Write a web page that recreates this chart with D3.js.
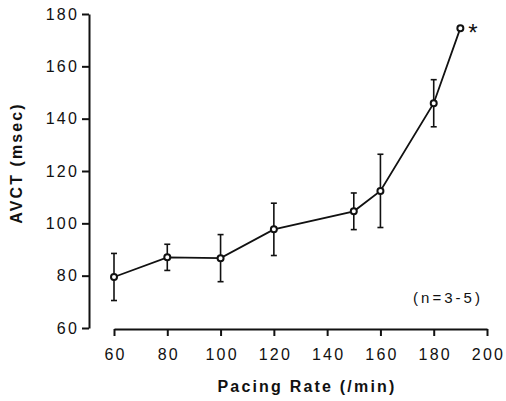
<!DOCTYPE html>
<html>
<head>
<meta charset="utf-8">
<script src="https://cdn.jsdelivr.net/npm/d3@7"></script>
<style>
  html, body { margin: 0; padding: 0; background: #fff; }
  svg { display: block; }
  text { font-family: "Liberation Sans", Arial, Helvetica, sans-serif; fill: #111; }
</style>
</head>
<body>
<script>
// AV conduction time versus atrial pacing rate (mean ± SD)
const pacingRates = [60, 80, 100, 120, 150, 160, 180, 190];
const avctMeans   = [79.5, 87, 86.7, 97.7, 104.6, 112.4, 145.9, 174.6];
const avctErrors  = [9, 5, 9, 10, 7, 14, 9, null];
const xTicks = [60, 80, 100, 120, 140, 160, 180, 200];
const yTicks = [60, 80, 100, 120, 140, 160, 180];
const sampleNote = "(n=3-5)";
const significanceMark = "*";

const W = 506, H = 401;
const svg = d3.select("body").append("svg").attr("width", W).attr("height", H);

const x = d3.scaleLinear().domain([60, 200]).range([114, 487]);
const y = d3.scaleLinear().domain([60, 180]).range([328, 14]);

const ink = "#111";
const tickFont = { size: "16px", spacing: "2.2px" };

// Y axis
const yAxis = svg.append("g")
  .attr("transform", "translate(89,0)")
  .call(d3.axisLeft(y).tickValues(yTicks).tickSize(7).tickSizeOuter(0).tickPadding(3));
yAxis.select(".domain").attr("stroke", ink).attr("stroke-width", 2);
yAxis.selectAll(".tick line").attr("stroke", ink).attr("stroke-width", 2);
yAxis.selectAll(".tick text")
  .style("font-size", tickFont.size).style("letter-spacing", tickFont.spacing).attr("fill", ink);

// X axis
const xAxis = svg.append("g")
  .attr("transform", "translate(0,329)")
  .call(d3.axisBottom(x).tickValues(xTicks).tickSize(7).tickSizeOuter(0).tickPadding(13));
xAxis.select(".domain").attr("stroke", ink).attr("stroke-width", 2);
xAxis.selectAll(".tick line").attr("stroke", ink).attr("stroke-width", 2);
xAxis.selectAll(".tick text")
  .attr("dx", 1)
  .style("font-size", tickFont.size).style("letter-spacing", tickFont.spacing).attr("fill", ink);

// Axis titles
svg.append("text")
  .attr("x", 307).attr("y", 392)
  .attr("text-anchor", "middle")
  .style("font-size", "16px").style("font-weight", "bold").style("letter-spacing", "2.2px")
  .text("Pacing Rate (/min)");

svg.append("text")
  .attr("transform", "translate(22,163) rotate(-90)")
  .attr("text-anchor", "middle")
  .style("font-size", "16px").style("font-weight", "bold").style("letter-spacing", "2.1px")
  .text("AVCT (msec)");

const pts = pacingRates.map((r, i) => ({ r, m: avctMeans[i], e: avctErrors[i] }));

// Error bars
const bars = svg.append("g").attr("stroke", ink).attr("stroke-width", 1.6);
pts.filter(d => d.e != null).forEach(d => {
  const cx = x(d.r);
  bars.append("line").attr("x1", cx).attr("x2", cx).attr("y1", y(d.m + d.e)).attr("y2", y(d.m - d.e));
  bars.append("line").attr("x1", cx - 3).attr("x2", cx + 3).attr("y1", y(d.m + d.e)).attr("y2", y(d.m + d.e));
  bars.append("line").attr("x1", cx - 3).attr("x2", cx + 3).attr("y1", y(d.m - d.e)).attr("y2", y(d.m - d.e));
});

// Mean line
svg.append("path")
  .datum(pts)
  .attr("fill", "none").attr("stroke", ink).attr("stroke-width", 1.8)
  .attr("d", d3.line().x(d => x(d.r)).y(d => y(d.m)));

// Markers
svg.append("g").selectAll("circle").data(pts).join("circle")
  .attr("cx", d => x(d.r)).attr("cy", d => y(d.m)).attr("r", 3)
  .attr("fill", "#fff").attr("stroke", ink).attr("stroke-width", 2);

// Significance mark beside the last point
const last = pts[pts.length - 1];
svg.append("text")
  .attr("x", x(last.r) + 8).attr("y", y(last.m) + 13)
  .style("font-size", "24px")
  .text(significanceMark);

// Sample size note
svg.append("text")
  .attr("x", 448).attr("y", 303)
  .attr("text-anchor", "middle")
  .style("font-size", "15px").style("letter-spacing", "3px")
  .text(sampleNote);
</script>
</body>
</html>
